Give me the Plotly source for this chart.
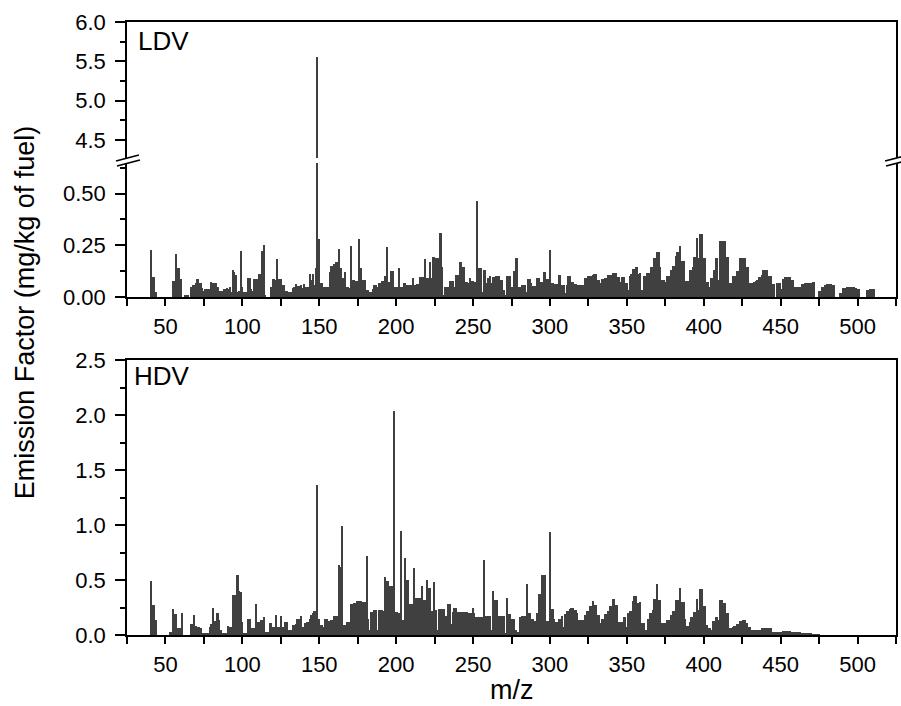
import plotly.graph_objects as go

# ---------------- data ----------------
# LDV emission factors, one value per integer m/z starting at 41
ldv_041_100 = [
    0.227, 0.098, 0.098, 0.025, 0, 0, 0, 0, 0, 0,
    0, 0, 0, 0, 0.079, 0.079, 0.206, 0.139, 0.139, 0.085,
    0, 0, 0.008, 0.008, 0.008, 0, 0.047, 0.058, 0.058, 0.066,
    0.085, 0.066, 0.066, 0.042, 0.027, 0.037, 0.037, 0.037, 0.037, 0.074,
    0.066, 0.066, 0.066, 0.047, 0.030, 0.030, 0.030, 0.040, 0.040, 0.042,
    0.040, 0.048, 0.026, 0.130, 0.120, 0.106, 0.026, 0.030, 0.224, 0.050,
]
ldv_101_200 = [
    0.022, 0.022, 0.022, 0.090, 0.090, 0.039, 0.030, 0.085, 0.085, 0.085,
    0.110, 0.110, 0.224, 0.250, 0.005, 0, 0, 0, 0.050, 0.085,
    0.085, 0.080, 0.185, 0.085, 0.085, 0.058, 0.058, 0.030, 0.030, 0.026,
    0.026, 0.026, 0.042, 0.050, 0.063, 0.053, 0.053, 0.056, 0.042, 0.061,
    0.050, 0.050, 0.050, 0.110, 0.080, 0.110, 0.060, 0.140, 5.550, 0.280,
    0.070, 0.070, 0.050, 0.050, 0.050, 0.050, 0.120, 0.150, 0.150, 0.160,
    0.170, 0.170, 0.230, 0.140, 0.090, 0.090, 0.120, 0.050, 0.050, 0.045,
    0.245, 0.080, 0.080, 0.075, 0.075, 0.280, 0.140, 0.080, 0.080, 0.080,
    0.034, 0.034, 0.026, 0.026, 0.040, 0.058, 0.058, 0.050, 0.066, 0.066,
    0.077, 0.077, 0.100, 0.240, 0.074, 0.074, 0.127, 0.127, 0.050, 0.050,
]
ldv_201_300 = [
    0.050, 0.139, 0.050, 0.050, 0.066, 0.066, 0.058, 0.058, 0.058, 0.058,
    0.090, 0.058, 0.058, 0.063, 0.063, 0.098, 0.095, 0.095, 0.182, 0.090,
    0.090, 0.171, 0.090, 0.192, 0.192, 0.187, 0.190, 0.190, 0.311, 0.143,
    0.010, 0.047, 0.047, 0.047, 0.079, 0.079, 0.079, 0.050, 0.106, 0.106,
    0.106, 0.171, 0.147, 0.147, 0.074, 0.074, 0.070, 0.090, 0.079, 0.079,
    0.074, 0.074, 0.466, 0.139, 0.139, 0.026, 0.130, 0.130, 0.066, 0.090,
    0.100, 0.066, 0.098, 0.098, 0.100, 0.100, 0.100, 0.082, 0.082, 0.034,
    0.010, 0.100, 0.100, 0.100, 0.050, 0.050, 0.127, 0.187, 0.187, 0.050,
    0.050, 0.060, 0.060, 0.060, 0.026, 0.089, 0.089, 0.066, 0.055, 0.055,
    0.055, 0.090, 0.090, 0.074, 0.074, 0.119, 0.119, 0.086, 0.086, 0.226,
]
ldv_301_400 = [
    0.066, 0.066, 0.061, 0.061, 0.061, 0.105, 0.105, 0.058, 0.058, 0.020,
    0.058, 0.100, 0.100, 0.071, 0.071, 0.063, 0.063, 0.058, 0.058, 0.058,
    0.058, 0.058, 0.090, 0.090, 0.100, 0.100, 0.100, 0.105, 0.110, 0.110,
    0.082, 0.082, 0.070, 0.087, 0.087, 0.090, 0.090, 0.106, 0.106, 0.106,
    0.118, 0.118, 0.118, 0.098, 0.098, 0.071, 0.095, 0.095, 0.066, 0.066,
    0.034, 0.100, 0.113, 0.134, 0.134, 0.143, 0.143, 0.113, 0.118, 0.034,
    0.100, 0.100, 0.118, 0.118, 0.118, 0.143, 0.143, 0.187, 0.187, 0.216,
    0.216, 0.147, 0.082, 0.082, 0.074, 0.100, 0.100, 0.100, 0.130, 0.150,
    0.150, 0.198, 0.219, 0.219, 0.247, 0.176, 0.176, 0.079, 0.079, 0.079,
    0.130, 0.130, 0.143, 0.192, 0.192, 0.284, 0.190, 0.305, 0.305, 0.187,
]
ldv_401_511 = [
    0.187, 0.074, 0.074, 0.047, 0.094, 0.094, 0.130, 0.187, 0.187, 0.080,
    0.272, 0.272, 0.272, 0.272, 0.192, 0.192, 0.066, 0.066, 0.100, 0.100,
    0.100, 0.127, 0.127, 0.190, 0.190, 0.190, 0.190, 0.143, 0.143, 0.068,
    0.068, 0.070, 0.072, 0.075, 0.082, 0.095, 0.095, 0.106, 0.130, 0.130,
    0.130, 0.100, 0.100, 0.100, 0.061, 0.061, 0, 0.066, 0.066, 0.066,
    0.040, 0.085, 0.095, 0.095, 0.095, 0.095, 0.082, 0.082, 0.050, 0.050,
    0.050, 0.050, 0.050, 0.061, 0.061, 0.069, 0.069, 0.069, 0.069, 0.069,
    0.073, 0.073, 0, 0, 0.030, 0.030, 0.050, 0.050, 0.058, 0.063,
    0.063, 0.063, 0.063, 0.058, 0.058, 0, 0, 0, 0.018, 0.018,
    0.042, 0.042, 0.050, 0.050, 0.050, 0.050, 0.048, 0.047, 0.045, 0.037,
    0.037, 0, 0, 0, 0, 0.034, 0.034, 0.039, 0.039, 0.039, 0.039,
]

# HDV emission factors, one value per integer m/z starting at 41
hdv_041_100 = [
    0.49, 0.27, 0.27, 0.14, 0, 0, 0, 0, 0, 0,
    0, 0, 0.03, 0.03, 0.24, 0.19, 0.19, 0.06, 0.06, 0.06,
    0.20, 0, 0, 0, 0, 0, 0.10, 0.10, 0.18, 0.08,
    0.07, 0.07, 0.06, 0.02, 0.02, 0.02, 0.02, 0.02, 0.07, 0.10,
    0.25, 0.13, 0.13, 0.20, 0.14, 0.05, 0.02, 0.02, 0.02, 0.01,
    0.08, 0.07, 0.07, 0.36, 0.36, 0.36, 0.55, 0.40, 0.39, 0.12,
]
hdv_101_200 = [
    0.01, 0.01, 0.01, 0.15, 0.15, 0.06, 0.06, 0.06, 0.28, 0.12,
    0.12, 0.14, 0.14, 0.16, 0.03, 0.03, 0.03, 0.11, 0.11, 0.07,
    0.07, 0.18, 0.07, 0.07, 0.17, 0.07, 0.07, 0.12, 0.12, 0.05,
    0.05, 0.05, 0.09, 0.09, 0.10, 0.15, 0.15, 0.17, 0.075, 0.075,
    0.11, 0.12, 0.12, 0.15, 0.18, 0.20, 0.22, 0.22, 1.36, 0.15,
    0.09, 0.09, 0.075, 0.15, 0.15, 0.13, 0.13, 0.14, 0.14, 0.17,
    0.17, 0.17, 0.64, 0.62, 0.99, 0.09, 0.09, 0.115, 0.115, 0.115,
    0.28, 0.28, 0.29, 0.29, 0.31, 0.31, 0.31, 0.30, 0.30, 0.30,
    0.72, 0.15, 0.05, 0.21, 0.21, 0.23, 0.23, 0.05, 0.23, 0.23,
    0.23, 0.22, 0.53, 0.49, 0.49, 0.45, 0.45, 0.45, 2.04, 0.21,
]
hdv_201_300 = [
    0.21, 0.20, 0.95, 0.14, 0.14, 0.70, 0.50, 0.50, 0.28, 0.28,
    0.28, 0.61, 0.34, 0.34, 0.34, 0.34, 0.45, 0.32, 0.32, 0.50,
    0.43, 0.43, 0.22, 0.22, 0.48, 0.23, 0.05, 0.24, 0.24, 0.24,
    0.24, 0.17, 0.17, 0.28, 0.28, 0.10, 0.21, 0.245, 0.245, 0.21,
    0.21, 0.21, 0.21, 0.21, 0.21, 0.21, 0.20, 0.20, 0.20, 0.25,
    0.20, 0.167, 0.167, 0.167, 0.167, 0.167, 0.68, 0.17, 0.17, 0.17,
    0.17, 0.05, 0.40, 0.32, 0.32, 0.32, 0.17, 0.17, 0.175, 0.175,
    0.015, 0.333, 0.19, 0.19, 0.145, 0.145, 0.145, 0.05, 0.03, 0.03,
    0.16, 0.17, 0.17, 0.17, 0.46, 0.20, 0.20, 0.15, 0.15, 0.13,
    0.13, 0.20, 0.37, 0.37, 0.55, 0.55, 0.55, 0.13, 0.13, 0.94,
]
hdv_301_400 = [
    0.24, 0.24, 0.15, 0.115, 0.115, 0.145, 0.145, 0.17, 0.07, 0.19,
    0.22, 0.22, 0.236, 0.25, 0.25, 0.23, 0.23, 0.20, 0.14, 0.14,
    0.14, 0.14, 0.18, 0.22, 0.22, 0.26, 0.26, 0.31, 0.27, 0.27,
    0.18, 0.18, 0.11, 0.15, 0.15, 0.19, 0.19, 0.22, 0.26, 0.26,
    0.33, 0.33, 0.27, 0.27, 0.12, 0.12, 0.12, 0.16, 0.16, 0.075,
    0.20, 0.22, 0.22, 0.31, 0.355, 0.355, 0.29, 0.29, 0.30, 0.106,
    0.106, 0.05, 0.05, 0.15, 0.20, 0.20, 0.23, 0.33, 0.33, 0.46,
    0.32, 0.32, 0.106, 0.106, 0.106, 0.136, 0.136, 0.136, 0.18, 0.22,
    0.22, 0.32, 0.32, 0.32, 0.43, 0.30, 0.30, 0.15, 0.08, 0.08,
    0.12, 0.167, 0.167, 0.21, 0.21, 0.33, 0.23, 0.415, 0.415, 0.26,
]
hdv_401_475 = [
    0.26, 0.09, 0.06, 0.06, 0.05, 0.13, 0.13, 0.167, 0.167, 0.14,
    0.32, 0.32, 0.29, 0.29, 0.20, 0.20, 0.06, 0.06, 0.07, 0.08,
    0.08, 0.10, 0.10, 0.13, 0.13, 0.14, 0.14, 0.106, 0.075, 0.075,
    0.045, 0.045, 0.045, 0.05, 0.05, 0.05, 0.05, 0.067, 0.067, 0.067,
    0.067, 0.06, 0.06, 0.06, 0.03, 0.03, 0.03, 0.03, 0.03, 0.03,
    0.03, 0.036, 0.036, 0.036, 0.036, 0.036, 0.024, 0.024, 0.024, 0.024,
    0.024, 0.024, 0.024, 0.018, 0.018, 0.018, 0.018, 0.01, 0.01, 0.015,
    0.005, 0.005, 0.005, 0.005, 0.005,
]

ldv = ldv_041_100 + ldv_101_200 + ldv_201_300 + ldv_301_400 + ldv_401_511
hdv = hdv_041_100 + hdv_101_200 + hdv_201_300 + hdv_301_400 + hdv_401_475
mz_ldv = list(range(41, 41 + len(ldv)))
mz_hdv = list(range(41, 41 + len(hdv)))

x_range = [25, 525]
ldv_low_range = [0, 0.648]
ldv_high_range = [4.27, 6.0]
hdv_range = [0, 2.5]

# ---------------- styling / layout ----------------
W, H = 901, 706
L, R, T, B = 127, 3, 22, 71
PH = H - T - B          # plot-area height in px
PW = W - L - R          # plot-area width in px


def py(y_px):
    return (H - B - y_px) / PH


def px(x_px):
    return (x_px - L) / PW


BAR = '#404040'
FONT = 'Arial, Liberation Sans, Arimo, sans-serif'
TICKF = dict(family=FONT, size=22, color='black')
LW = 1.6

fig = go.Figure()
bar_style = dict(marker=dict(color=BAR, line=dict(width=0)), width=1.0, showlegend=False)
fig.add_trace(go.Bar(x=mz_hdv, y=hdv, xaxis='x', yaxis='y', **bar_style))
fig.add_trace(go.Bar(x=mz_ldv, y=ldv, xaxis='x2', yaxis='y2', **bar_style))
fig.add_trace(go.Bar(x=mz_ldv, y=ldv, xaxis='x3', yaxis='y3', **bar_style))

common_x = dict(range=x_range, showgrid=False, zeroline=False, showline=True,
                linecolor='black', linewidth=LW, tickfont=TICKF, tickcolor='black')
xticks = dict(ticks='outside', ticklen=7, tickwidth=LW, tick0=0, dtick=50,
              minor=dict(ticks='outside', ticklen=7, tickwidth=LW, tick0=0, dtick=25,
                         tickcolor='black'),
              ticklabelstandoff=2)

common_y = dict(showgrid=False, zeroline=False, showline=True, mirror=True,
                linecolor='black', linewidth=LW, tickfont=TICKF, tickcolor='black',
                ticks='outside', ticklen=10, tickwidth=LW, ticklabelstandoff=5)

fig.update_layout(
    width=W, height=H,
    margin=dict(l=L, r=R, t=T, b=B),
    paper_bgcolor='white', plot_bgcolor='white',
    bargap=0, showlegend=False,
    font=dict(family=FONT, color='black'),
    xaxis=dict(anchor='y', domain=[0, 1], mirror=True, **common_x, **xticks),
    xaxis2=dict(anchor='y2', domain=[0, 1], matches='x', mirror=False, **common_x, **xticks),
    xaxis3=dict(anchor='y3', domain=[0, 1], matches='x', side='top', mirror=False,
                ticks='', showticklabels=False, **common_x),
    yaxis=dict(anchor='x', domain=[0, py(360)], range=hdv_range, tick0=0, dtick=0.5,
               tickformat='.1f',
               minor=dict(ticks='outside', ticklen=5, tickwidth=LW, tick0=0, dtick=0.25,
                          tickcolor='black'),
               **common_y),
    yaxis2=dict(anchor='x2', domain=[py(297), py(163)], range=ldv_low_range, tick0=0,
                dtick=0.25, tickformat='.2f',
                minor=dict(ticks='outside', ticklen=5, tickwidth=LW, tick0=0, dtick=0.125,
                           tickcolor='black'),
                **common_y),
    yaxis3=dict(anchor='x3', domain=[py(158), 1], range=ldv_high_range, tick0=0,
                dtick=0.5, tickformat='.1f',
                minor=dict(ticks='outside', ticklen=5, tickwidth=LW, tick0=0, dtick=0.25,
                           tickcolor='black'),
                **common_y),
)

# axis-break marks (//) on both sides of the LDV panel
shapes = []
for cx in (L, L + PW):
    for (x0, y0, x1, y1) in [(-11, 161, 12, 155), (-10, 166, 13, 160)]:
        shapes.append(dict(type='line', xref='paper', yref='paper',
                           x0=px(cx + x0), y0=py(y0), x1=px(cx + x1), y1=py(y1),
                           line=dict(color='black', width=LW)))
fig.update_layout(shapes=shapes)

annots = [
    dict(text='LDV', x=px(136), y=py(41), xanchor='left', yanchor='middle'),
    dict(text='HDV', x=px(132), y=py(376), xanchor='left', yanchor='middle'),
]
for a in annots:
    fig.add_annotation(xref='paper', yref='paper', showarrow=False,
                       font=dict(family=FONT, size=26, color='black'), **a)

fig.add_annotation(text='Emission Factor (mg/kg of fuel)', xref='paper', yref='paper',
                   x=px(25), y=py(312), xanchor='center', yanchor='middle', textangle=-90,
                   showarrow=False, font=dict(family=FONT, size=27, color='black'))
fig.add_annotation(text='m/z', xref='paper', yref='paper',
                   x=px((L + L + PW) / 2), y=py(690), xanchor='center', yanchor='middle',
                   showarrow=False, font=dict(family=FONT, size=27, color='black'))

# remove the browser's default page margin so the figure sits at the window origin
fig.write_html('out.html',
               config={'displayModeBar': False},
               post_script="document.body.style.margin='0';"
                           "document.body.style.overflow='hidden';")
